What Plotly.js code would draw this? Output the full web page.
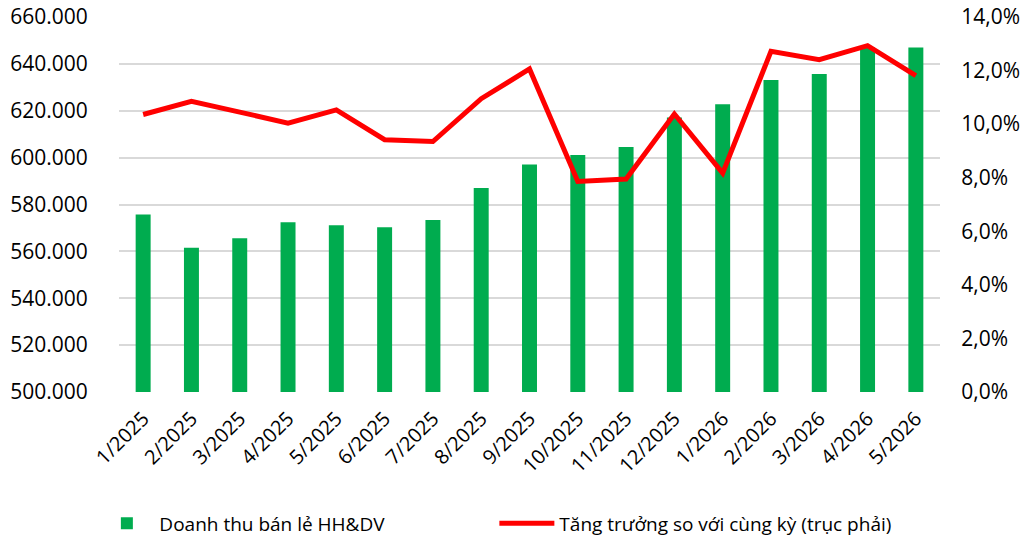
<!DOCTYPE html>
<html>
<head>
<meta charset="utf-8">
<script src="https://cdn.plot.ly/plotly-3.0.1.min.js"></script>
<style>html,body{margin:0;padding:0;background:#fff;}#chart{width:1036px;height:539px;}</style>
</head>
<body>
<div id="chart"></div>
<script>
const months = ["1/2025","2/2025","3/2025","4/2025","5/2025","6/2025","7/2025","8/2025","9/2025","10/2025","11/2025","12/2025","1/2026","2/2026","3/2026","4/2026","5/2026"];
const revenue = [575700, 561600, 565600, 572400, 571200, 570300, 573400, 587000, 597100, 601100, 604500, 617100, 622800, 633100, 635700, 647000, 647000];
const growth = [0.1036, 0.1085, 0.1045, 0.1004, 0.1053, 0.0942, 0.0935, 0.1095, 0.1206, 0.0786, 0.0795, 0.1038, 0.0817, 0.1272, 0.1241, 0.1293, 0.1181];
const barName = "Doanh thu bán lẻ HH&DV";
const lineName = "Tăng trưởng so với cùng kỳ (trục phải)";

const font = "Open Sans, Noto Sans, sans-serif";
const data = [
  {type:"bar", x:months, y:revenue, name:barName, marker:{color:"#00AC4F"}, width:0.31, yaxis:"y"},
  {type:"scatter", mode:"lines", x:months, y:growth, name:lineName, line:{color:"#FF0000", width:5}, yaxis:"y2"}
];
const layout = {
  width:1036, height:539,
  margin:{l:119, r:96, t:17, b:147, autoexpand:false},
  paper_bgcolor:"#fff", plot_bgcolor:"#fff",
  separators:",.",
  font:{family:font, size:20, color:"#000"},
  showlegend:true,
  legend:{orientation:"h", x:-0.03, xanchor:"left", y:-0.30, yanchor:"top", font:{size:19},
          itemwidth:55, entrywidth:330, entrywidthmode:"pixels", traceorder:"normal", bgcolor:"rgba(0,0,0,0)"},
  xaxis:{type:"category", tickangle:-45, showgrid:false, zeroline:false, showline:false, ticks:"outside", ticklen:6, tickcolor:"rgba(0,0,0,0)", tickfont:{size:20}, automargin:false},
  yaxis:{range:[500000,660000], dtick:20000, tickformat:",d", showgrid:true, gridcolor:"#d9d9d9", gridwidth:2, zeroline:false, showline:false, ticks:"outside", ticklen:26, tickcolor:"rgba(0,0,0,0)", tickfont:{size:21}, automargin:false},
  yaxis2:{overlaying:"y", side:"right", range:[0,0.14], dtick:0.02, tickformat:".1%", showgrid:false, zeroline:false, showline:false, ticks:"outside", ticklen:16, tickcolor:"rgba(0,0,0,0)", tickfont:{size:21}, automargin:false},
  bargap:0.69
};
Plotly.newPlot("chart", data, layout, {displayModeBar:false, staticPlot:true});
</script>
</body>
</html>
